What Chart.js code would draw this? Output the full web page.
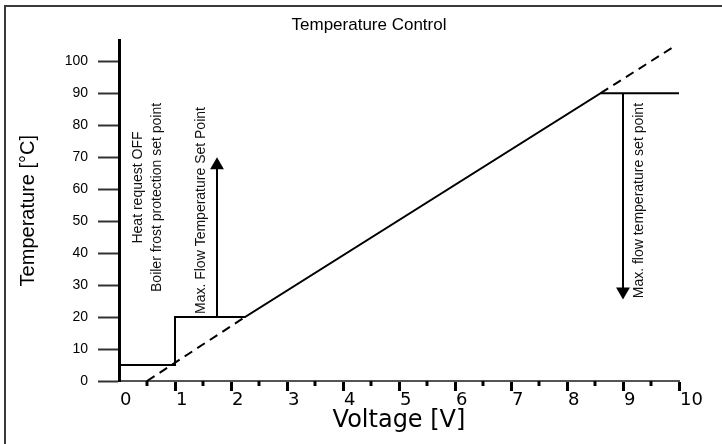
<!DOCTYPE html>
<html>
<head>
<meta charset="utf-8">
<script src="https://cdn.jsdelivr.net/npm/chart.js@4.4.0/dist/chart.umd.min.js"></script>
<style>
  html, body { margin: 0; padding: 0; background: #fff; }
  #wrap { width: 722px; height: 444px; position: relative; }
</style>
</head>
<body>
<div id="wrap"><canvas id="chart"></canvas></div>
<script>
// Temperature Control - voltage to flow temperature

// solid control curve
const controlX = [0, 1, 1, 2.25, 8.6, 10];
const controlY = [5, 5, 20, 20, 90, 90];

// dashed linear extension (gap in the middle, covered by the solid curve)
const slopeX = [0.5, 2.25, 5, 8.6, 9.95];
const slopeY = [0, 20, null, 90, 105];

// set point arrows
const upArrowX = [1.75, 1.75];
const upArrowY = [20, 67.5];
const downArrowX = [9, 9];
const downArrowY = [90, 28];

// minor ticks on the voltage axis
const minorTicks = [0.5, 1.5, 2.5, 3.5, 4.5, 5.5, 6.5, 7.5, 8.5, 9.5];

// rotated notes
const noteTexts = [
  "Heat request OFF",
  "Boiler frost protection set point",
  "Max. Flow Temperature Set Point",
  "Max. flow temperature set point"
];
const noteX = [0.34, 0.68, 1.47, 9.29];
const noteY = [60.5, 57.4, 53.3, 56.4];

function pts(xs, ys) {
  return xs.map((x, i) => ({ x: x, y: ys[i] }));
}

const extras = {
  id: "extras",
  beforeDraw(chart) {
    const ctx = chart.ctx;
    ctx.save();
    ctx.fillStyle = "#3a3a3a";
    ctx.fillRect(4, 5, chart.width - 4, 2);
    ctx.fillRect(4, 5, 2, chart.height - 5);
    ctx.restore();
  },
  afterDraw(chart) {
    const { ctx, scales: { x, y } } = chart;
    ctx.save();
    // minor ticks
    ctx.strokeStyle = "#000";
    ctx.lineWidth = 3;
    minorTicks.forEach(v => {
      const px = x.getPixelForValue(v);
      ctx.beginPath();
      ctx.moveTo(px, x.top);
      ctx.lineTo(px, x.top + 5);
      ctx.stroke();
    });
    // notes
    ctx.fillStyle = "#111";
    ctx.font = '14px "Liberation Sans", Arial, sans-serif';
    ctx.textAlign = "center";
    ctx.textBaseline = "middle";
    noteTexts.forEach((t, i) => {
      ctx.save();
      ctx.translate(x.getPixelForValue(noteX[i]), y.getPixelForValue(noteY[i]));
      ctx.rotate(-Math.PI / 2);
      ctx.fillText(t, 0, 0);
      ctx.restore();
    });
    ctx.restore();
  }
};

new Chart(document.getElementById("chart"), {
  type: "scatter",
  data: {
    datasets: [
      {
        data: pts(controlX, controlY),
        showLine: true,
        borderColor: "#000",
        borderWidth: 2,
        pointRadius: 0,
        order: 1
      },
      {
        data: pts(slopeX, slopeY),
        showLine: true,
        spanGaps: false,
        borderColor: "#000",
        borderWidth: 2,
        borderDash: [9, 6],
        pointRadius: 0,
        order: 2
      },
      {
        data: pts(upArrowX, upArrowY),
        showLine: true,
        borderColor: "#000",
        borderWidth: 2,
        pointStyle: "triangle",
        pointRadius: [0, 8],
        pointBackgroundColor: "#000",
        pointBorderWidth: 0,
        order: 0
      },
      {
        data: pts(downArrowX, downArrowY),
        showLine: true,
        borderColor: "#000",
        borderWidth: 2,
        pointStyle: "triangle",
        pointRadius: [0, 8],
        pointRotation: 180,
        pointBackgroundColor: "#000",
        pointBorderWidth: 0,
        order: 0
      }
    ]
  },
  options: {
    responsive: true,
    maintainAspectRatio: false,
    animation: false,
    events: [],
    layout: { padding: { left: 16, right: 0, top: 0, bottom: 0 } },
    plugins: {
      legend: { display: false },
      tooltip: { enabled: false },
      title: {
        display: true,
        text: "Temperature Control",
        color: "#000",
        font: { family: "Liberation Sans", size: 17, weight: "normal" },
        padding: { top: 15, bottom: 5 }
      }
    },
    scales: {
      x: {
        type: "linear",
        min: 0,
        max: 10,
        ticks: {
          stepSize: 1,
          color: "#000",
          font: { family: "DejaVu Sans", size: 18 },
          padding: -1,
          align: "start",
          labelOffset: 1,
          maxRotation: 0,
          autoSkip: false
        },
        grid: {
          drawOnChartArea: false,
          tickLength: 10,
          tickWidth: 3,
          tickColor: c => (c.tick && c.tick.value === 0 ? "rgba(0,0,0,0)" : "#000")
        },
        border: { color: "#555", width: 2 },
        title: {
          display: true,
          text: "Voltage [V]",
          color: "#000",
          font: { family: "DejaVu Sans", size: 24 },
          padding: { top: 0, bottom: 9 }
        },
        afterFit: s => { s.height = 63; s.paddingRight = 43; }
      },
      y: {
        min: 0,
        max: 106.5,
        ticks: {
          stepSize: 10,
          includeBounds: false,
          color: "#000",
          font: { family: "Liberation Sans", size: 14 },
          padding: 10
        },
        grid: {
          drawOnChartArea: false,
          tickLength: 21,
          tickWidth: 2,
          tickColor: "#333"
        },
        border: { color: "#000", width: 3 },
        title: {
          display: true,
          text: "Temperature [°C]",
          color: "#000",
          font: { family: "Liberation Sans", size: 20 },
          padding: { top: 0, bottom: 0 }
        },
        afterFit: s => { s.width = 103; }
      }
    }
  },
  plugins: [extras]
});
</script>
</body>
</html>
